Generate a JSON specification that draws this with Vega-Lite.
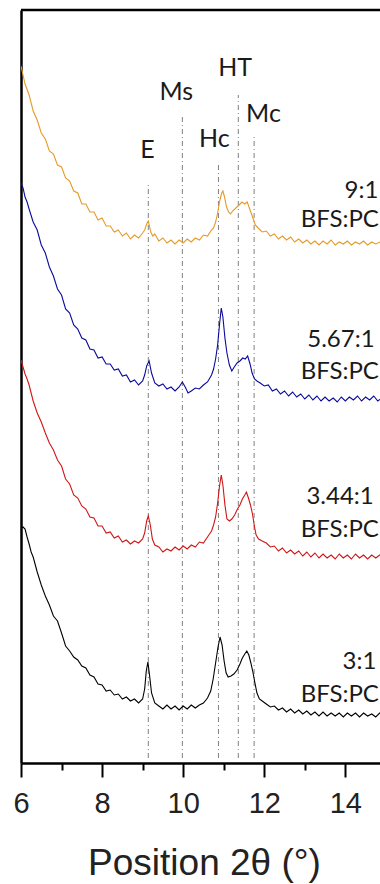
{
"$schema": "https://vega.github.io/schema/vega-lite/v6.json",
"width": 359, "height": 753,
"autosize": {"type": "none"},
"padding": {"left": 21, "top": 10, "right": 0, "bottom": 121},
"background": "white",
"config": {"view": {"stroke": null}, "axis": {"grid": false}},
"datasets": {
"curves": [
{"s":"9:1","x":6.0,"y":697},{"s":"9:1","x":6.05,"y":688},{"s":"9:1","x":6.1,"y":679},{"s":"9:1","x":6.2,"y":668},{"s":"9:1","x":6.3,"y":652},{"s":"9:1","x":6.4,"y":643},{"s":"9:1","x":6.5,"y":630},{"s":"9:1","x":6.6,"y":624},{"s":"9:1","x":6.7,"y":612},{"s":"9:1","x":6.8,"y":609},{"s":"9:1","x":6.9,"y":598},{"s":"9:1","x":7.0,"y":596},{"s":"9:1","x":7.1,"y":585},{"s":"9:1","x":7.2,"y":582},{"s":"9:1","x":7.3,"y":572},{"s":"9:1","x":7.4,"y":570},{"s":"9:1","x":7.5,"y":559},{"s":"9:1","x":7.6,"y":559},{"s":"9:1","x":7.7,"y":551},{"s":"9:1","x":7.8,"y":551},{"s":"9:1","x":7.9,"y":543},{"s":"9:1","x":8.0,"y":545},{"s":"9:1","x":8.1,"y":537},{"s":"9:1","x":8.2,"y":537},{"s":"9:1","x":8.3,"y":531},{"s":"9:1","x":8.4,"y":533},{"s":"9:1","x":8.5,"y":527},{"s":"9:1","x":8.6,"y":530},{"s":"9:1","x":8.7,"y":524},{"s":"9:1","x":8.8,"y":528},{"s":"9:1","x":8.9,"y":525},{"s":"9:1","x":9.0,"y":530},{"s":"9:1","x":9.05,"y":533},{"s":"9:1","x":9.1,"y":539},{"s":"9:1","x":9.14,"y":542},{"s":"9:1","x":9.2,"y":531},{"s":"9:1","x":9.25,"y":527},{"s":"9:1","x":9.3,"y":529},{"s":"9:1","x":9.4,"y":522},{"s":"9:1","x":9.5,"y":525},{"s":"9:1","x":9.6,"y":520},{"s":"9:1","x":9.7,"y":523},{"s":"9:1","x":9.8,"y":519},{"s":"9:1","x":9.9,"y":523},{"s":"9:1","x":10.0,"y":520},{"s":"9:1","x":10.1,"y":524},{"s":"9:1","x":10.2,"y":521},{"s":"9:1","x":10.3,"y":525},{"s":"9:1","x":10.4,"y":523},{"s":"9:1","x":10.5,"y":528},{"s":"9:1","x":10.6,"y":527},{"s":"9:1","x":10.7,"y":533},{"s":"9:1","x":10.75,"y":535},{"s":"9:1","x":10.8,"y":541},{"s":"9:1","x":10.85,"y":550},{"s":"9:1","x":10.9,"y":562},{"s":"9:1","x":10.95,"y":570},{"s":"9:1","x":10.98,"y":572},{"s":"9:1","x":11.02,"y":566},{"s":"9:1","x":11.07,"y":556},{"s":"9:1","x":11.12,"y":551},{"s":"9:1","x":11.17,"y":549},{"s":"9:1","x":11.22,"y":552},{"s":"9:1","x":11.3,"y":555},{"s":"9:1","x":11.38,"y":558},{"s":"9:1","x":11.45,"y":561},{"s":"9:1","x":11.52,"y":559},{"s":"9:1","x":11.58,"y":561},{"s":"9:1","x":11.65,"y":553},{"s":"9:1","x":11.72,"y":545},{"s":"9:1","x":11.78,"y":538},{"s":"9:1","x":11.85,"y":535},{"s":"9:1","x":11.95,"y":531},{"s":"9:1","x":12.05,"y":532},{"s":"9:1","x":12.15,"y":527},{"s":"9:1","x":12.25,"y":529},{"s":"9:1","x":12.35,"y":524},{"s":"9:1","x":12.45,"y":527},{"s":"9:1","x":12.55,"y":523},{"s":"9:1","x":12.65,"y":526},{"s":"9:1","x":12.75,"y":521},{"s":"9:1","x":12.85,"y":524},{"s":"9:1","x":12.95,"y":520},{"s":"9:1","x":13.05,"y":523},{"s":"9:1","x":13.15,"y":519},{"s":"9:1","x":13.25,"y":522},{"s":"9:1","x":13.35,"y":518},{"s":"9:1","x":13.45,"y":522},{"s":"9:1","x":13.55,"y":519},{"s":"9:1","x":13.65,"y":523},{"s":"9:1","x":13.75,"y":518},{"s":"9:1","x":13.85,"y":521},{"s":"9:1","x":13.95,"y":519},{"s":"9:1","x":14.05,"y":522},{"s":"9:1","x":14.15,"y":518},{"s":"9:1","x":14.25,"y":521},{"s":"9:1","x":14.35,"y":519},{"s":"9:1","x":14.45,"y":522},{"s":"9:1","x":14.55,"y":518},{"s":"9:1","x":14.65,"y":521},{"s":"9:1","x":14.75,"y":519},{"s":"9:1","x":14.85,"y":521},{"s":"9:1","x":14.95,"y":520},
{"s":"5.67:1","x":6.0,"y":580},{"s":"5.67:1","x":6.05,"y":575},{"s":"5.67:1","x":6.1,"y":566},{"s":"5.67:1","x":6.15,"y":561},{"s":"5.67:1","x":6.2,"y":554},{"s":"5.67:1","x":6.3,"y":541},{"s":"5.67:1","x":6.4,"y":533},{"s":"5.67:1","x":6.5,"y":518},{"s":"5.67:1","x":6.6,"y":510},{"s":"5.67:1","x":6.7,"y":496},{"s":"5.67:1","x":6.8,"y":487},{"s":"5.67:1","x":6.9,"y":474},{"s":"5.67:1","x":7.0,"y":468},{"s":"5.67:1","x":7.1,"y":454},{"s":"5.67:1","x":7.2,"y":450},{"s":"5.67:1","x":7.3,"y":438},{"s":"5.67:1","x":7.4,"y":434},{"s":"5.67:1","x":7.5,"y":425},{"s":"5.67:1","x":7.6,"y":423},{"s":"5.67:1","x":7.7,"y":414},{"s":"5.67:1","x":7.8,"y":413},{"s":"5.67:1","x":7.9,"y":405},{"s":"5.67:1","x":8.0,"y":406},{"s":"5.67:1","x":8.1,"y":399},{"s":"5.67:1","x":8.2,"y":399},{"s":"5.67:1","x":8.3,"y":393},{"s":"5.67:1","x":8.4,"y":394},{"s":"5.67:1","x":8.5,"y":387},{"s":"5.67:1","x":8.6,"y":388},{"s":"5.67:1","x":8.7,"y":381},{"s":"5.67:1","x":8.8,"y":383},{"s":"5.67:1","x":8.9,"y":378},{"s":"5.67:1","x":9.0,"y":382},{"s":"5.67:1","x":9.05,"y":388},{"s":"5.67:1","x":9.1,"y":397},{"s":"5.67:1","x":9.16,"y":402},{"s":"5.67:1","x":9.22,"y":390},{"s":"5.67:1","x":9.3,"y":380},{"s":"5.67:1","x":9.4,"y":377},{"s":"5.67:1","x":9.5,"y":379},{"s":"5.67:1","x":9.6,"y":374},{"s":"5.67:1","x":9.7,"y":376},{"s":"5.67:1","x":9.8,"y":372},{"s":"5.67:1","x":9.9,"y":376},{"s":"5.67:1","x":9.98,"y":381},{"s":"5.67:1","x":10.05,"y":376},{"s":"5.67:1","x":10.12,"y":370},{"s":"5.67:1","x":10.2,"y":372},{"s":"5.67:1","x":10.3,"y":375},{"s":"5.67:1","x":10.4,"y":374},{"s":"5.67:1","x":10.5,"y":378},{"s":"5.67:1","x":10.6,"y":381},{"s":"5.67:1","x":10.7,"y":388},{"s":"5.67:1","x":10.75,"y":394},{"s":"5.67:1","x":10.8,"y":404},{"s":"5.67:1","x":10.85,"y":418},{"s":"5.67:1","x":10.9,"y":440},{"s":"5.67:1","x":10.94,"y":455},{"s":"5.67:1","x":10.98,"y":446},{"s":"5.67:1","x":11.03,"y":425},{"s":"5.67:1","x":11.08,"y":410},{"s":"5.67:1","x":11.14,"y":398},{"s":"5.67:1","x":11.2,"y":392},{"s":"5.67:1","x":11.26,"y":396},{"s":"5.67:1","x":11.33,"y":400},{"s":"5.67:1","x":11.4,"y":402},{"s":"5.67:1","x":11.47,"y":405},{"s":"5.67:1","x":11.53,"y":404},{"s":"5.67:1","x":11.59,"y":407},{"s":"5.67:1","x":11.65,"y":399},{"s":"5.67:1","x":11.7,"y":390},{"s":"5.67:1","x":11.76,"y":384},{"s":"5.67:1","x":11.82,"y":382},{"s":"5.67:1","x":11.9,"y":380},{"s":"5.67:1","x":12.0,"y":377},{"s":"5.67:1","x":12.1,"y":378},{"s":"5.67:1","x":12.2,"y":372},{"s":"5.67:1","x":12.3,"y":374},{"s":"5.67:1","x":12.4,"y":369},{"s":"5.67:1","x":12.5,"y":372},{"s":"5.67:1","x":12.6,"y":367},{"s":"5.67:1","x":12.7,"y":371},{"s":"5.67:1","x":12.8,"y":366},{"s":"5.67:1","x":12.9,"y":369},{"s":"5.67:1","x":13.0,"y":364},{"s":"5.67:1","x":13.1,"y":368},{"s":"5.67:1","x":13.2,"y":363},{"s":"5.67:1","x":13.3,"y":367},{"s":"5.67:1","x":13.4,"y":362},{"s":"5.67:1","x":13.5,"y":366},{"s":"5.67:1","x":13.6,"y":362},{"s":"5.67:1","x":13.7,"y":365},{"s":"5.67:1","x":13.8,"y":361},{"s":"5.67:1","x":13.9,"y":366},{"s":"5.67:1","x":14.0,"y":362},{"s":"5.67:1","x":14.1,"y":366},{"s":"5.67:1","x":14.2,"y":363},{"s":"5.67:1","x":14.3,"y":367},{"s":"5.67:1","x":14.4,"y":362},{"s":"5.67:1","x":14.5,"y":366},{"s":"5.67:1","x":14.6,"y":363},{"s":"5.67:1","x":14.7,"y":367},{"s":"5.67:1","x":14.8,"y":362},{"s":"5.67:1","x":14.9,"y":365},
{"s":"3.44:1","x":6.0,"y":403},{"s":"3.44:1","x":6.05,"y":396},{"s":"3.44:1","x":6.1,"y":389},{"s":"3.44:1","x":6.15,"y":384},{"s":"3.44:1","x":6.2,"y":378},{"s":"3.44:1","x":6.3,"y":362},{"s":"3.44:1","x":6.4,"y":350},{"s":"3.44:1","x":6.5,"y":341},{"s":"3.44:1","x":6.6,"y":330},{"s":"3.44:1","x":6.7,"y":320},{"s":"3.44:1","x":6.8,"y":313},{"s":"3.44:1","x":6.9,"y":303},{"s":"3.44:1","x":7.0,"y":297},{"s":"3.44:1","x":7.1,"y":284},{"s":"3.44:1","x":7.2,"y":279},{"s":"3.44:1","x":7.3,"y":268},{"s":"3.44:1","x":7.4,"y":265},{"s":"3.44:1","x":7.5,"y":257},{"s":"3.44:1","x":7.6,"y":254},{"s":"3.44:1","x":7.7,"y":246},{"s":"3.44:1","x":7.8,"y":245},{"s":"3.44:1","x":7.9,"y":237},{"s":"3.44:1","x":8.0,"y":237},{"s":"3.44:1","x":8.1,"y":230},{"s":"3.44:1","x":8.2,"y":231},{"s":"3.44:1","x":8.3,"y":225},{"s":"3.44:1","x":8.4,"y":227},{"s":"3.44:1","x":8.5,"y":221},{"s":"3.44:1","x":8.6,"y":223},{"s":"3.44:1","x":8.7,"y":219},{"s":"3.44:1","x":8.8,"y":222},{"s":"3.44:1","x":8.9,"y":220},{"s":"3.44:1","x":9.0,"y":224},{"s":"3.44:1","x":9.05,"y":230},{"s":"3.44:1","x":9.1,"y":242},{"s":"3.44:1","x":9.14,"y":247},{"s":"3.44:1","x":9.19,"y":238},{"s":"3.44:1","x":9.24,"y":224},{"s":"3.44:1","x":9.3,"y":218},{"s":"3.44:1","x":9.4,"y":216},{"s":"3.44:1","x":9.5,"y":211},{"s":"3.44:1","x":9.6,"y":214},{"s":"3.44:1","x":9.7,"y":212},{"s":"3.44:1","x":9.8,"y":216},{"s":"3.44:1","x":9.9,"y":213},{"s":"3.44:1","x":10.0,"y":217},{"s":"3.44:1","x":10.1,"y":214},{"s":"3.44:1","x":10.2,"y":218},{"s":"3.44:1","x":10.3,"y":216},{"s":"3.44:1","x":10.4,"y":221},{"s":"3.44:1","x":10.5,"y":220},{"s":"3.44:1","x":10.6,"y":226},{"s":"3.44:1","x":10.7,"y":232},{"s":"3.44:1","x":10.75,"y":238},{"s":"3.44:1","x":10.8,"y":246},{"s":"3.44:1","x":10.85,"y":260},{"s":"3.44:1","x":10.9,"y":278},{"s":"3.44:1","x":10.94,"y":288},{"s":"3.44:1","x":10.98,"y":278},{"s":"3.44:1","x":11.03,"y":258},{"s":"3.44:1","x":11.08,"y":244},{"s":"3.44:1","x":11.14,"y":242},{"s":"3.44:1","x":11.2,"y":244},{"s":"3.44:1","x":11.27,"y":248},{"s":"3.44:1","x":11.34,"y":254},{"s":"3.44:1","x":11.4,"y":258},{"s":"3.44:1","x":11.46,"y":264},{"s":"3.44:1","x":11.52,"y":268},{"s":"3.44:1","x":11.56,"y":271},{"s":"3.44:1","x":11.61,"y":265},{"s":"3.44:1","x":11.66,"y":258},{"s":"3.44:1","x":11.71,"y":249},{"s":"3.44:1","x":11.76,"y":236},{"s":"3.44:1","x":11.8,"y":228},{"s":"3.44:1","x":11.86,"y":224},{"s":"3.44:1","x":11.95,"y":222},{"s":"3.44:1","x":12.05,"y":220},{"s":"3.44:1","x":12.15,"y":216},{"s":"3.44:1","x":12.25,"y":217},{"s":"3.44:1","x":12.35,"y":212},{"s":"3.44:1","x":12.45,"y":215},{"s":"3.44:1","x":12.55,"y":210},{"s":"3.44:1","x":12.65,"y":213},{"s":"3.44:1","x":12.75,"y":209},{"s":"3.44:1","x":12.85,"y":212},{"s":"3.44:1","x":12.95,"y":207},{"s":"3.44:1","x":13.05,"y":211},{"s":"3.44:1","x":13.15,"y":206},{"s":"3.44:1","x":13.25,"y":210},{"s":"3.44:1","x":13.35,"y":205},{"s":"3.44:1","x":13.45,"y":209},{"s":"3.44:1","x":13.55,"y":205},{"s":"3.44:1","x":13.65,"y":208},{"s":"3.44:1","x":13.75,"y":204},{"s":"3.44:1","x":13.85,"y":209},{"s":"3.44:1","x":13.95,"y":205},{"s":"3.44:1","x":14.05,"y":208},{"s":"3.44:1","x":14.15,"y":204},{"s":"3.44:1","x":14.25,"y":209},{"s":"3.44:1","x":14.35,"y":205},{"s":"3.44:1","x":14.45,"y":208},{"s":"3.44:1","x":14.55,"y":204},{"s":"3.44:1","x":14.65,"y":208},{"s":"3.44:1","x":14.75,"y":205},{"s":"3.44:1","x":14.85,"y":208},{"s":"3.44:1","x":14.95,"y":206},
{"s":"3:1","x":6.0,"y":235},{"s":"3:1","x":6.05,"y":236},{"s":"3:1","x":6.1,"y":234},{"s":"3:1","x":6.15,"y":226},{"s":"3:1","x":6.2,"y":219},{"s":"3:1","x":6.25,"y":211},{"s":"3:1","x":6.3,"y":206},{"s":"3:1","x":6.4,"y":191},{"s":"3:1","x":6.5,"y":178},{"s":"3:1","x":6.6,"y":167},{"s":"3:1","x":6.7,"y":158},{"s":"3:1","x":6.8,"y":147},{"s":"3:1","x":6.9,"y":142},{"s":"3:1","x":7.0,"y":130},{"s":"3:1","x":7.1,"y":117},{"s":"3:1","x":7.2,"y":112},{"s":"3:1","x":7.3,"y":106},{"s":"3:1","x":7.4,"y":103},{"s":"3:1","x":7.5,"y":97},{"s":"3:1","x":7.6,"y":95},{"s":"3:1","x":7.7,"y":88},{"s":"3:1","x":7.8,"y":86},{"s":"3:1","x":7.9,"y":79},{"s":"3:1","x":8.0,"y":78},{"s":"3:1","x":8.1,"y":72},{"s":"3:1","x":8.2,"y":73},{"s":"3:1","x":8.3,"y":68},{"s":"3:1","x":8.4,"y":69},{"s":"3:1","x":8.5,"y":64},{"s":"3:1","x":8.6,"y":66},{"s":"3:1","x":8.7,"y":62},{"s":"3:1","x":8.8,"y":64},{"s":"3:1","x":8.9,"y":60},{"s":"3:1","x":9.0,"y":64},{"s":"3:1","x":9.05,"y":74},{"s":"3:1","x":9.09,"y":92},{"s":"3:1","x":9.13,"y":101},{"s":"3:1","x":9.17,"y":88},{"s":"3:1","x":9.22,"y":70},{"s":"3:1","x":9.3,"y":60},{"s":"3:1","x":9.4,"y":57},{"s":"3:1","x":9.5,"y":54},{"s":"3:1","x":9.6,"y":58},{"s":"3:1","x":9.7,"y":54},{"s":"3:1","x":9.8,"y":57},{"s":"3:1","x":9.9,"y":53},{"s":"3:1","x":10.0,"y":57},{"s":"3:1","x":10.1,"y":54},{"s":"3:1","x":10.2,"y":58},{"s":"3:1","x":10.3,"y":55},{"s":"3:1","x":10.4,"y":58},{"s":"3:1","x":10.5,"y":60},{"s":"3:1","x":10.6,"y":65},{"s":"3:1","x":10.68,"y":72},{"s":"3:1","x":10.74,"y":84},{"s":"3:1","x":10.8,"y":100},{"s":"3:1","x":10.86,"y":116},{"s":"3:1","x":10.91,"y":126},{"s":"3:1","x":10.96,"y":118},{"s":"3:1","x":11.01,"y":102},{"s":"3:1","x":11.06,"y":90},{"s":"3:1","x":11.11,"y":86},{"s":"3:1","x":11.18,"y":87},{"s":"3:1","x":11.25,"y":89},{"s":"3:1","x":11.33,"y":93},{"s":"3:1","x":11.4,"y":99},{"s":"3:1","x":11.46,"y":105},{"s":"3:1","x":11.52,"y":109},{"s":"3:1","x":11.57,"y":112},{"s":"3:1","x":11.62,"y":108},{"s":"3:1","x":11.67,"y":100},{"s":"3:1","x":11.72,"y":91},{"s":"3:1","x":11.77,"y":80},{"s":"3:1","x":11.82,"y":70},{"s":"3:1","x":11.88,"y":64},{"s":"3:1","x":11.95,"y":62},{"s":"3:1","x":12.05,"y":59},{"s":"3:1","x":12.15,"y":56},{"s":"3:1","x":12.25,"y":57},{"s":"3:1","x":12.35,"y":53},{"s":"3:1","x":12.45,"y":55},{"s":"3:1","x":12.55,"y":51},{"s":"3:1","x":12.65,"y":54},{"s":"3:1","x":12.75,"y":50},{"s":"3:1","x":12.85,"y":53},{"s":"3:1","x":12.95,"y":49},{"s":"3:1","x":13.05,"y":52},{"s":"3:1","x":13.15,"y":48},{"s":"3:1","x":13.25,"y":51},{"s":"3:1","x":13.35,"y":47},{"s":"3:1","x":13.45,"y":51},{"s":"3:1","x":13.55,"y":47},{"s":"3:1","x":13.65,"y":50},{"s":"3:1","x":13.75,"y":47},{"s":"3:1","x":13.85,"y":50},{"s":"3:1","x":13.95,"y":46},{"s":"3:1","x":14.05,"y":50},{"s":"3:1","x":14.15,"y":47},{"s":"3:1","x":14.25,"y":50},{"s":"3:1","x":14.35,"y":46},{"s":"3:1","x":14.45,"y":50},{"s":"3:1","x":14.55,"y":47},{"s":"3:1","x":14.65,"y":49},{"s":"3:1","x":14.75,"y":46},{"s":"3:1","x":14.85,"y":50},{"s":"3:1","x":14.95,"y":48}
],
"peaks": [
{"t":"E","x":9.14,"y":5,"y2":581,"lx":9.12,"ly":613},
{"t":"Ms","x":9.98,"y":5,"y2":648,"lx":9.83,"ly":671},
{"t":"Hc","x":10.87,"y":5,"y2":601,"lx":10.77,"ly":624},
{"t":"HT","x":11.36,"y":5,"y2":668,"lx":11.28,"ly":695},
{"t":"Mc","x":11.75,"y":5,"y2":628,"lx":11.98,"ly":649}
],
"samples": [
{"t":"9:1","x":13.98,"y":572},{"t":"BFS:PC","x":12.9,"y":543},
{"t":"5.67:1","x":13.06,"y":423},{"t":"BFS:PC","x":12.9,"y":391},
{"t":"3.44:1","x":13.04,"y":266},{"t":"BFS:PC","x":12.9,"y":233},
{"t":"3:1","x":13.93,"y":101},{"t":"BFS:PC","x":12.9,"y":68}
],
"frame": [{"x":6,"x2":14.855,"y":753}]
},
"layer": [
{
"data": {"name": "peaks"},
"mark": {"type": "rule", "color": "#808080", "strokeWidth": 1, "strokeDash": [5, 3, 1, 3]},
"encoding": {
"x": {"field": "x", "type": "quantitative", "scale": {"domain": [6, 14.855], "nice": false, "zero": false},
"axis": {"title": "Position 2θ (°)", "values": [6,6.5,7,7.5,8,8.5,9,9.5,10,10.5,11,11.5,12,12.5,13,13.5,14,14.5],
"labelExpr": "datum.value % 2 === 0 ? datum.label : ''", "labelFlush": false, "labelOverlap": false,
"labelFont": "Liberation Sans", "labelFontSize": 29, "labelColor": "#222222", "labelBaseline": "alphabetic", "labelPadding": 35,
"tickSize": {"condition": {"test": "datum.value % 2 === 0", "value": 14}, "value": 7}, "tickWidth": 2, "tickColor": "black",
"domainColor": "black", "domainWidth": 2.5,
"titleFont": "Liberation Sans", "titleFontSize": 37, "titleFontWeight": "normal", "titleColor": "#222222",
"titleBaseline": "alphabetic", "titleY": 111, "titleX": 183, "titleAlign": "center"}},
"y": {"field": "y", "type": "quantitative", "scale": {"domain": [0, 753], "nice": false, "zero": false},
"axis": {"title": null, "labels": false, "ticks": false, "domainColor": "black", "domainWidth": 2.5}},
"y2": {"field": "y2"}
}
},
{
"data": {"name": "curves"},
"mark": {"type": "line", "strokeWidth": 1.1, "clip": true},
"encoding": {
"x": {"field": "x", "type": "quantitative"},
"y": {"field": "y", "type": "quantitative"},
"color": {"field": "s", "type": "nominal", "legend": null,
"scale": {"domain": ["9:1", "5.67:1", "3.44:1", "3:1"], "range": ["#E69A28", "#0A0A9C", "#D11515", "#000000"]}}
}
},
{
"data": {"name": "peaks"},
"mark": {"type": "text", "font": "Lato", "fontSize": 25, "color": "#1a1a1a", "align": "center", "baseline": "middle"},
"encoding": {
"x": {"field": "lx", "type": "quantitative"},
"y": {"field": "ly", "type": "quantitative"},
"text": {"field": "t"}
}
},
{
"data": {"name": "samples"},
"mark": {"type": "text", "font": "Lato", "fontSize": 24, "color": "#1a1a1a", "align": "left", "baseline": "middle"},
"encoding": {
"x": {"field": "x", "type": "quantitative"},
"y": {"field": "y", "type": "quantitative"},
"text": {"field": "t"}
}
},
{
"data": {"name": "frame"},
"mark": {"type": "rule", "color": "black", "strokeWidth": 2.5},
"encoding": {
"x": {"field": "x", "type": "quantitative"},
"x2": {"field": "x2"},
"y": {"field": "y", "type": "quantitative"}
}
}
]
}
